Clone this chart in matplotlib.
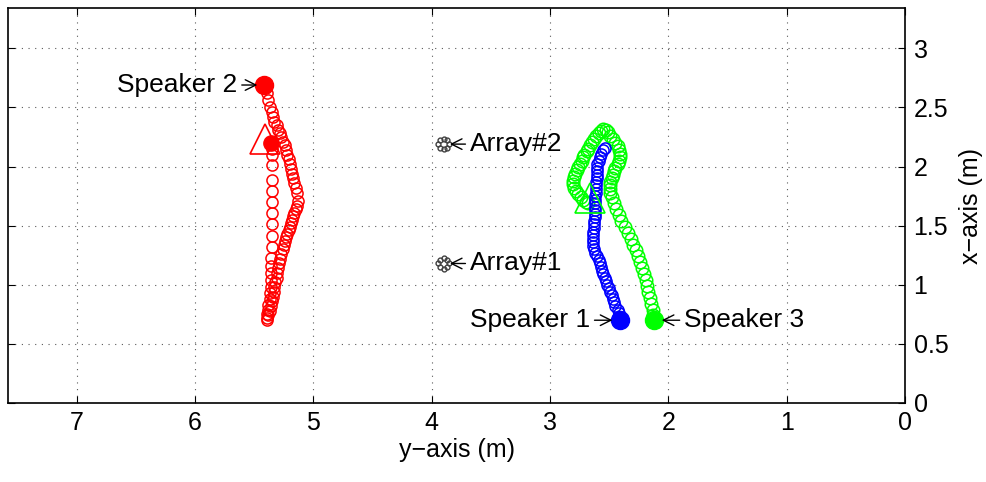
import numpy as np
import matplotlib
matplotlib.use('Agg')
import matplotlib.pyplot as plt

plt.rcParams['font.family'] = ['Liberation Sans', 'DejaVu Sans']

# ---- datos (y = eje horizontal, x = eje vertical) ----
# Speaker 2 (rojo): ida por la derecha, vuelta por la columna izquierda
rojo_ida_y = [5.40, 5.39, 5.38, 5.37, 5.35, 5.34, 5.33, 5.31, 5.30, 5.28, 5.27, 5.26, 5.24,
              5.23, 5.22, 5.21, 5.20, 5.19, 5.18, 5.17, 5.16, 5.15, 5.14, 5.13, 5.14, 5.15,
              5.16, 5.17, 5.18, 5.19, 5.20, 5.21, 5.22, 5.23, 5.24, 5.25, 5.26, 5.27, 5.28,
              5.29, 5.30, 5.31, 5.31, 5.32, 5.33, 5.33, 5.34, 5.35, 5.36, 5.37, 5.38, 5.39]
rojo_ida_x = [2.69, 2.62, 2.56, 2.50, 2.46, 2.42, 2.38, 2.35, 2.31, 2.28, 2.25, 2.21, 2.18,
              2.14, 2.10, 2.06, 2.02, 1.98, 1.94, 1.90, 1.86, 1.82, 1.78, 1.71, 1.67, 1.64,
              1.61, 1.58, 1.55, 1.52, 1.49, 1.46, 1.43, 1.40, 1.37, 1.34, 1.30, 1.26, 1.22,
              1.18, 1.14, 1.10, 1.06, 1.02, 0.98, 0.94, 0.90, 0.86, 0.82, 0.78, 0.74, 0.70]
rojo_vuelta_y = [5.39, 5.39, 5.38, 5.38, 5.37, 5.37, 5.36, 5.36, 5.36, 5.36, 5.36, 5.35,
                 5.35, 5.35, 5.35, 5.35, 5.35, 5.35, 5.35, 5.35, 5.35, 5.36]
rojo_vuelta_x = [0.72, 0.75, 0.79, 0.83, 0.88, 0.93, 0.98, 1.04, 1.10, 1.16, 1.23, 1.32,
                 1.41, 1.51, 1.61, 1.70, 1.79, 1.89, 2.01, 2.10, 2.15, 2.20]

# Speaker 1 (azul)
azul_x = [0.70, 0.73, 0.76, 0.79, 0.82, 0.85, 0.88, 0.91, 0.94, 0.97, 1.00, 1.03, 1.06,
          1.09, 1.12, 1.15, 1.18, 1.21, 1.24, 1.27, 1.30, 1.33, 1.36, 1.39, 1.42, 1.45,
          1.48, 1.51, 1.54, 1.57, 1.60, 1.63, 1.66, 1.69, 1.72, 1.75, 1.78, 1.81, 1.84,
          1.87, 1.90, 1.93, 1.96, 1.99, 2.02, 2.05, 2.08, 2.11, 2.14, 2.16]
azul_y = [2.41, 2.42, 2.42, 2.43, 2.45, 2.46, 2.47, 2.48, 2.49, 2.50, 2.52, 2.53, 2.54,
          2.55, 2.56, 2.57, 2.58, 2.59, 2.60, 2.62, 2.63, 2.64, 2.64, 2.64, 2.64, 2.64,
          2.63, 2.63, 2.63, 2.62, 2.62, 2.62, 2.62, 2.62, 2.62, 2.62, 2.61, 2.61, 2.61,
          2.61, 2.60, 2.60, 2.60, 2.60, 2.60, 2.59, 2.58, 2.57, 2.55, 2.54]

# Speaker 3 (verde)
verde_x = [0.69, 0.74, 0.79, 0.84, 0.89, 0.94, 0.99, 1.04, 1.09, 1.14, 1.19, 1.24, 1.29,
           1.34, 1.39, 1.44, 1.49, 1.54, 1.59, 1.64, 1.69, 1.74, 1.78,
           1.81, 1.84, 1.87, 1.90, 1.93, 1.96, 1.99, 2.02, 2.05, 2.08, 2.11, 2.14, 2.17,
           2.20, 2.23, 2.26, 2.29, 2.31,
           2.32, 2.30, 2.28, 2.26, 2.23, 2.21, 2.18, 2.15, 2.13, 2.10, 2.08, 2.05, 2.02,
           2.00, 1.97, 1.94, 1.91, 1.88, 1.85, 1.82, 1.79, 1.77, 1.74, 1.72, 1.70, 1.69]
verde_y = [2.13, 2.13, 2.13, 2.15, 2.16, 2.17, 2.18, 2.19, 2.21, 2.22, 2.24, 2.26, 2.27,
           2.30, 2.32, 2.34, 2.37, 2.40, 2.42, 2.44, 2.46, 2.48, 2.49,
           2.49, 2.49, 2.49, 2.48, 2.47, 2.46, 2.45, 2.43, 2.42, 2.41, 2.41, 2.42, 2.43,
           2.45, 2.47, 2.49, 2.51, 2.53,
           2.55, 2.57, 2.59, 2.61, 2.63, 2.65, 2.66, 2.68, 2.69, 2.71, 2.72, 2.73, 2.75,
           2.76, 2.77, 2.79, 2.80, 2.81, 2.81, 2.80, 2.78, 2.76, 2.74, 2.72, 2.70, 2.68]

# posiciones de los altavoces, estimaciones finales y arrays
spk_y = [2.41, 5.42, 2.12]
spk_x = [0.70, 2.69, 0.70]
spk_nombres = ['Speaker 1', 'Speaker 2', 'Speaker 3']
tri_y = [5.41, 2.66]
tri_x = [2.23, 1.73]
array_y = [3.90, 3.90]
array_x = [1.18, 2.19]
array_nombres = ['Array#1', 'Array#2']
n_mics = 8
r_mic = 0.045

fig = plt.figure(figsize=(9.87, 4.82), dpi=100)
ax = fig.add_axes([0.0081, 0.164, 0.909, 0.819])

# --- trayectorias ---
ax.plot(rojo_ida_y, rojo_ida_x, 'o', color='red', mfc='none', ms=8, mew=1.1)
ax.plot(rojo_vuelta_y, rojo_vuelta_x, 'o', color='red', mfc='none', ms=8, mew=1.1)
ax.plot(verde_y, verde_x, 'o', color='#00ff00', mfc='none', ms=9, mew=1.1)
ax.plot(azul_y, azul_x, 'o', color='blue', mfc='none', ms=8, mew=1.1)

# --- estimaciones (triangulos) ---
ax.plot(tri_y[0], tri_x[0], '^', color='red', mfc='none', ms=21, mew=1.2)
ax.plot(tri_y[1], tri_x[1], '^', color='#00ff00', mfc='none', ms=22, mew=1.2)
ax.plot(rojo_vuelta_y[-1], rojo_vuelta_x[-1], 'o', color='red', ms=11)

# --- altavoces ---
colores = ['blue', 'red', '#00ff00']
for yy, xx, c in zip(spk_y, spk_x, colores):
    ax.plot(yy, xx, 'o', color=c, ms=13)

# --- arrays circulares de microfonos ---
ang = np.linspace(0, 2*np.pi, n_mics, endpoint=False)
for yy, xx in zip(array_y, array_x):
    ax.plot(yy + r_mic*np.cos(ang), xx + r_mic*np.sin(ang), 'o', color='0.25',
            mfc='none', ms=3.5, mew=1.0)

# --- etiquetas con flecha ---
flecha = dict(arrowstyle='->', color='black', lw=1.0, shrinkA=1, shrinkB=2)
fs = 19
ax.annotate('Speaker 2', xy=(5.45, 2.69), xytext=(5.64, 2.69), ha='right', va='center',
            fontsize=fs, arrowprops=flecha)
ax.annotate('Speaker 1', xy=(2.45, 0.70), xytext=(2.66, 0.70), ha='right', va='center',
            fontsize=fs, arrowprops=flecha)
ax.annotate('Speaker 3', xy=(2.08, 0.70), xytext=(1.87, 0.70), ha='left', va='center',
            fontsize=fs, arrowprops=flecha)
for yy, xx, nom in zip(array_y, array_x, array_nombres):
    ax.annotate(nom, xy=(yy - 0.03, xx), xytext=(3.68, xx), ha='left', va='center',
                fontsize=fs, arrowprops=flecha)

# --- ejes ---
ax.set_xlim(7.58, 0)
ax.set_ylim(0, 3.34)
ax.set_xticks(np.arange(0, 8, 1))
ax.set_yticks(np.arange(0, 3.5, 0.5))
ax.set_yticklabels(['0', '0.5', '1', '1.5', '2', '2.5', '3'])
ax.yaxis.tick_right()
ax.yaxis.set_label_position('right')
ax.tick_params(axis='both', direction='in', labelsize=18, length=5, width=0.8,
               top=True, left=True, right=True, bottom=True, pad=6)
ax.set_xlabel('y\u2212axis (m)', fontsize=18, labelpad=2)
ax.set_ylabel('x\u2212axis (m)', fontsize=18, labelpad=8)
ax.grid(True, linestyle=(0, (1, 5)), color='0.35', linewidth=0.8)
for sp in ax.spines.values():
    sp.set_linewidth(1.2)

fig.savefig('out.png', dpi=100)
